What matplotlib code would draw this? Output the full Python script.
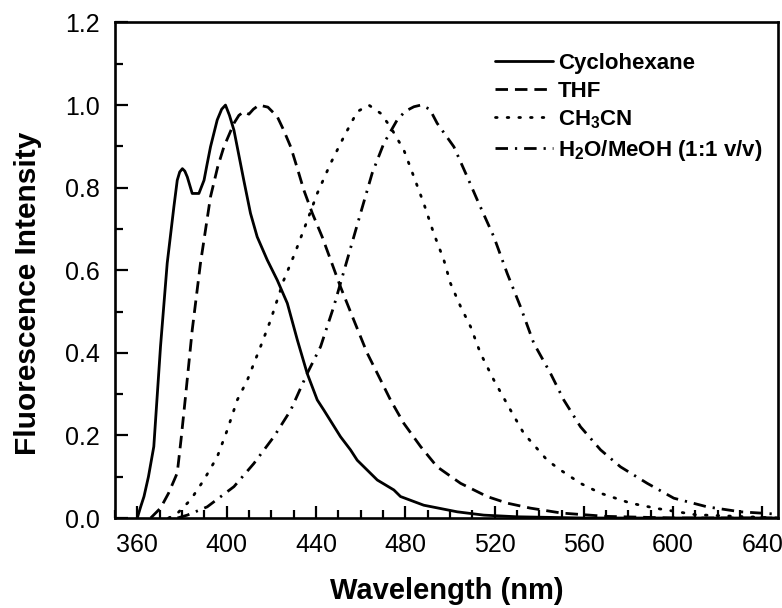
import matplotlib
matplotlib.use("Agg")
import matplotlib.pyplot as plt
from matplotlib.ticker import MultipleLocator, FormatStrFormatter

plt.rcParams['font.family'] = ['Liberation Sans', 'DejaVu Sans']
plt.rcParams['mathtext.fontset'] = 'custom'
plt.rcParams['mathtext.rm'] = 'Liberation Sans:bold'

# Cyclohexane (solid)
cyc_x = [360, 361.5, 363, 365, 367.4, 370.4, 373.4, 376.4, 377.9, 379, 380.2, 381.3, 382.4, 384.6, 387.6,
         389.9, 391.2, 392.8, 395.8, 397.8, 399.5, 401.3, 403.3, 407.7, 410.7, 413.7, 418.2, 422.7,
         427.2, 431.7, 436.1, 440.6, 443.6, 451, 455.5, 458.5, 467.5, 474.9, 477.9, 488.3, 503.3,
         515.2, 530, 560, 600, 647]
cyc_y = [0.0, 0.027, 0.052, 0.10, 0.173, 0.415, 0.617, 0.754, 0.818, 0.838, 0.846, 0.84, 0.826, 0.786, 0.786,
         0.818, 0.855, 0.899, 0.964, 0.99, 1.0, 0.975, 0.939, 0.818, 0.738, 0.681, 0.625, 0.576,
         0.52, 0.431, 0.350, 0.286, 0.261, 0.197, 0.165, 0.140, 0.092, 0.068, 0.052, 0.031, 0.015,
         0.007, 0.003, 0.0, 0.0, 0.0]

# THF (dashed)
thf_x = [366, 370.4, 374, 377.9, 379.6, 381.6, 384.6, 388.3, 392.8, 396, 398.8, 403.3, 405.5, 407.7, 410,
         412, 414.5, 418.5, 422.7, 425.5, 428.7, 431.5, 434.6, 438.4, 442.8, 446.6, 451, 457, 463, 469,
         473.4, 479.4, 486.9, 494.3, 504.8, 516.7, 525.7, 536, 550, 570, 600, 647]
thf_y = [0.0, 0.024, 0.06, 0.109, 0.19, 0.294, 0.455, 0.617, 0.778, 0.85, 0.899, 0.956, 0.975, 0.984, 0.978,
         0.99, 1.0, 0.995, 0.972, 0.94, 0.899, 0.85, 0.794, 0.738, 0.681, 0.625, 0.56, 0.479, 0.399, 0.334,
         0.286, 0.229, 0.173, 0.124, 0.084, 0.052, 0.036, 0.024, 0.012, 0.004, 0.0, 0.0]

# CH3CN (dotted)
acn_x = [374, 377.9, 383.9, 389.8, 395.8, 400.3, 404.8, 409.3, 415.2, 419.7, 425.6, 430.5, 436.1,
         440.6, 446.6, 452.5, 458.5, 463.7, 469, 473.4, 479.4, 483.9, 488.3, 492.8, 497.3, 500.3,
         504.8, 509.3, 513.7, 519.7, 527.2, 533.1, 543.6, 549.6, 558.5, 567.5, 580.9, 592.9, 610, 647]
acn_y = [0.0, 0.011, 0.044, 0.092, 0.148, 0.213, 0.286, 0.334, 0.415, 0.479, 0.576, 0.64, 0.72,
         0.786, 0.859, 0.923, 0.984, 1.0, 0.98, 0.947, 0.891, 0.826, 0.762, 0.689, 0.625, 0.568,
         0.512, 0.463, 0.399, 0.334, 0.261, 0.205, 0.140, 0.116, 0.084, 0.060, 0.036, 0.023, 0.008, 0.0]

# H2O/MeOH (dash-dot)
mix_x = [378, 382.4, 391.3, 403.3, 412.2, 421.2, 428.7, 436.1, 442.1, 448, 454, 460, 465.2, 470.4,
         476.4, 480, 483.9, 487, 491, 494.3, 501.8, 507.8, 512.3, 519.7, 525.7, 531.6, 537.6, 545.1, 551,
         558.5, 567.5, 576.4, 588.4, 600.3, 615.3, 630.2, 642, 647]
mix_y = [0.0, 0.007, 0.027, 0.076, 0.132, 0.197, 0.261, 0.350, 0.415, 0.512, 0.625, 0.738, 0.835, 0.907,
         0.964, 0.985, 0.996, 1.0, 0.99, 0.956, 0.899, 0.826, 0.770, 0.681, 0.592, 0.512, 0.423, 0.350, 0.286,
         0.221, 0.165, 0.124, 0.084, 0.048, 0.027, 0.015, 0.011, 0.009]

labels = ['Cyclohexane', 'THF', r'CH$_\mathrm{3}$CN', r'H$_\mathrm{2}$O/MeOH (1:1 v/v)']
styles = ['-', (0, (4.5, 2.5)), (0, (0.6, 3.6)), (0, (4.5, 2.5, 0.8, 2.5))]
caps = ['round', 'butt', 'round', 'butt']

fig = plt.figure(figsize=(7.82, 6.08), dpi=100)
ax = fig.add_axes([0.147, 0.148, 0.848, 0.815])

for xs, ys, lab, ls, cap in zip([cyc_x, thf_x, acn_x, mix_x], [cyc_y, thf_y, acn_y, mix_y],
                                labels, styles, caps):
    ax.plot(xs, ys, color='black', linestyle=ls, linewidth=2.0, label=lab,
            solid_capstyle='round', solid_joinstyle='round', dash_capstyle=cap)

ax.set_xlim(350, 647)
ax.set_ylim(0, 1.2)
ax.xaxis.set_major_locator(MultipleLocator(40))
ax.xaxis.set_minor_locator(MultipleLocator(10))
ax.yaxis.set_major_locator(MultipleLocator(0.2))
ax.yaxis.set_minor_locator(MultipleLocator(0.1))
ax.yaxis.set_major_formatter(FormatStrFormatter('%.1f'))
ax.tick_params(which='both', direction='in', top=False, right=False, width=1.6)
ax.tick_params(which='major', length=9, labelsize=18, pad=11)
ax.tick_params(which='minor', length=5.5)
ax.tick_params(axis='x', which='major', pad=11)
for s in ax.spines.values():
    s.set_linewidth(1.9)

ax.set_xlabel('Wavelength (nm)', fontsize=21, fontweight='bold', labelpad=14)
ax.set_ylabel('Fluorescence Intensity', fontsize=21.5, fontweight='bold')
ax.yaxis.set_label_coords(-0.110, 0.454)

leg = ax.legend(loc='upper right', bbox_to_anchor=(1.0, 0.97), frameon=False,
                prop={'weight': 'bold', 'size': 16}, handlelength=2.6, handletextpad=0.25,
                labelspacing=0.3, borderaxespad=0.3)

fig.savefig('out.png', dpi=100)
